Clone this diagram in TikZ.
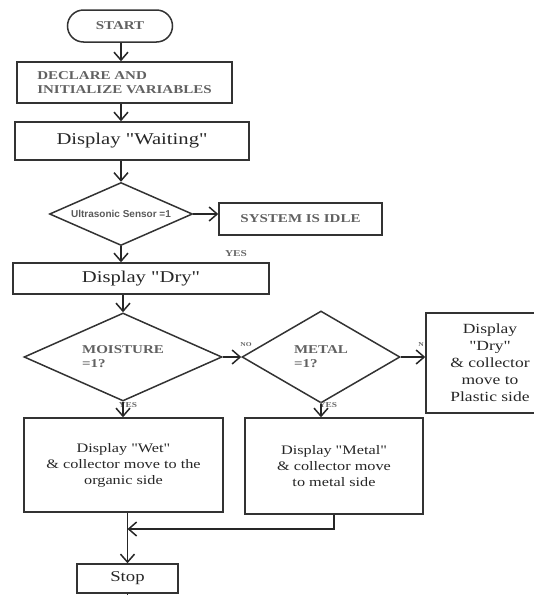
\documentclass[tikz,border=0pt]{standalone}
\usepackage{fontspec}
\setmainfont[FakeStretch=1.25]{Liberation Serif}
\newfontfamily\dispfont[FakeStretch=1.25]{Liberation Serif}
\newfontfamily\sensorfont{Liberation Sans}
\usetikzlibrary{
    arrows.meta,
    shapes.geometric,
    positioning,
    calc
}

\begin{document}
\begin{tikzpicture}[x=1pt, y=-1pt,
        box/.style={draw=black!80, line width=1.5pt, rectangle, inner sep=2pt, align=center, text=black!85},
        terminal/.style={box, rounded corners=16pt},
        decision/.style={draw=black!80, line width=1.5pt, diamond, inner sep=0pt, text=black!65},
        caps/.style={font=\dispfont\bfseries\fontsize{12}{14}\selectfont, text=black!62},
        show/.style={font=\dispfont\fontsize{16.5}{19}\selectfont},
        body/.style={font=\dispfont\fontsize{13}{16}\selectfont},
        small/.style={font=\dispfont\bfseries\fontsize{7.5}{9}\selectfont, text=black!60, inner sep=0pt},
        arr/.style={draw=black!85, line width=1.5pt, -{Straight Barb[length=8pt,width=14pt]}}
    ]
    \useasboundingbox (0,0) rectangle (534,595);

    \node[terminal, caps, minimum width=105pt, minimum height=32pt] (start) at (120,26) {START};
    \node[box, caps, align=left, minimum width=215pt, minimum height=41pt] (init) at (124.5,82.5) {DECLARE AND\\INITIALIZE VARIABLES};
    \node[box, show, minimum width=234pt, minimum height=38pt] (wait) at (132,141) {Display "Waiting"};
    \node[decision, aspect=2.3, minimum width=143pt, minimum height=63pt,
        font=\sensorfont\bfseries\fontsize{10}{12}\selectfont] (sensor) at (121,214) {Ultrasonic Sensor =1};
    \node[box, caps, minimum width=163pt, minimum height=32pt] (idle) at (300.5,219) {SYSTEM IS IDLE};
    \node[box, show, minimum width=256pt, minimum height=31pt] (dry) at (141,278.5) {Display "Dry"};
    \node[decision, caps, align=left, aspect=2.2, minimum width=198pt, minimum height=88pt] (moist) at (123,357) {MOISTURE\\=1?};
    \node[decision, caps, align=left, aspect=1.7, minimum width=158pt, minimum height=92pt] (metal) at (321,357) {METAL\\=1?};
    \node[box, font=\dispfont\fontsize{14}{17}\selectfont, minimum width=128pt, minimum height=100pt] (plastic) at (490,363) {Display\\"Dry"\\\& collector\\move to\\Plastic side};
    \node[box, body, minimum width=199pt, minimum height=94pt] (wet) at (123.5,465) {Display "Wet"\\\& collector move to the\\organic side};
    \node[box, body, minimum width=178pt, minimum height=96pt] (metalbox) at (334,466) {Display "Metal"\\\& collector move\\to metal side};
    \node[box, font=\dispfont\fontsize{15}{17}\selectfont, minimum width=101pt, minimum height=29pt] (stop) at (127.5,578.5) {Stop};

    % labels on the branches
    \node[small, font=\dispfont\bfseries\fontsize{9}{10}\selectfont] (yes1) at (236,254) {YES};
    \node[small, font=\dispfont\bfseries\fontsize{6}{7}\selectfont] (no1) at (246,345) {NO};
    \node[small, font=\dispfont\bfseries\fontsize{6}{7}\selectfont] (no2) at (421,345) {N};
    \node[small] (yes2) at (128,405) {YES};
    \node[small] (yes3) at (328,405) {YES};

    \coordinate (col) at (121,0);
    \coordinate (join) at (127.5,529);
    \coordinate (out) at (127.5,600);

    \draw[arr] (col |- start.south) -- (col |- init.north);
    \draw[arr] (col |- init.south) -- (col |- wait.north);
    \draw[arr] (col |- wait.south) -- (sensor.north);
    \draw[arr] (sensor.east) -- (sensor.east -| idle.west);
    \draw[arr] (sensor.south) -- (sensor.south |- dry.north);
    \draw[arr] (moist.north |- dry.south) -- (moist.north);
    \draw[arr] (moist.east) -- (metal.west);
    \draw[arr] (metal.east) -- (metal.east -| plastic.west);
    \draw[arr] (moist.south) -- (moist.south |- wet.north);
    \draw[arr] (metal.south) -- (metal.south |- metalbox.north);
    \draw[arr] (stop.north |- wet.south) -- (stop.north);
    \draw[arr] (metalbox.south) |- (join);
    \draw[draw=black!85, line width=1.5pt] (stop.south) -- (out);
\end{tikzpicture}
\end{document}
